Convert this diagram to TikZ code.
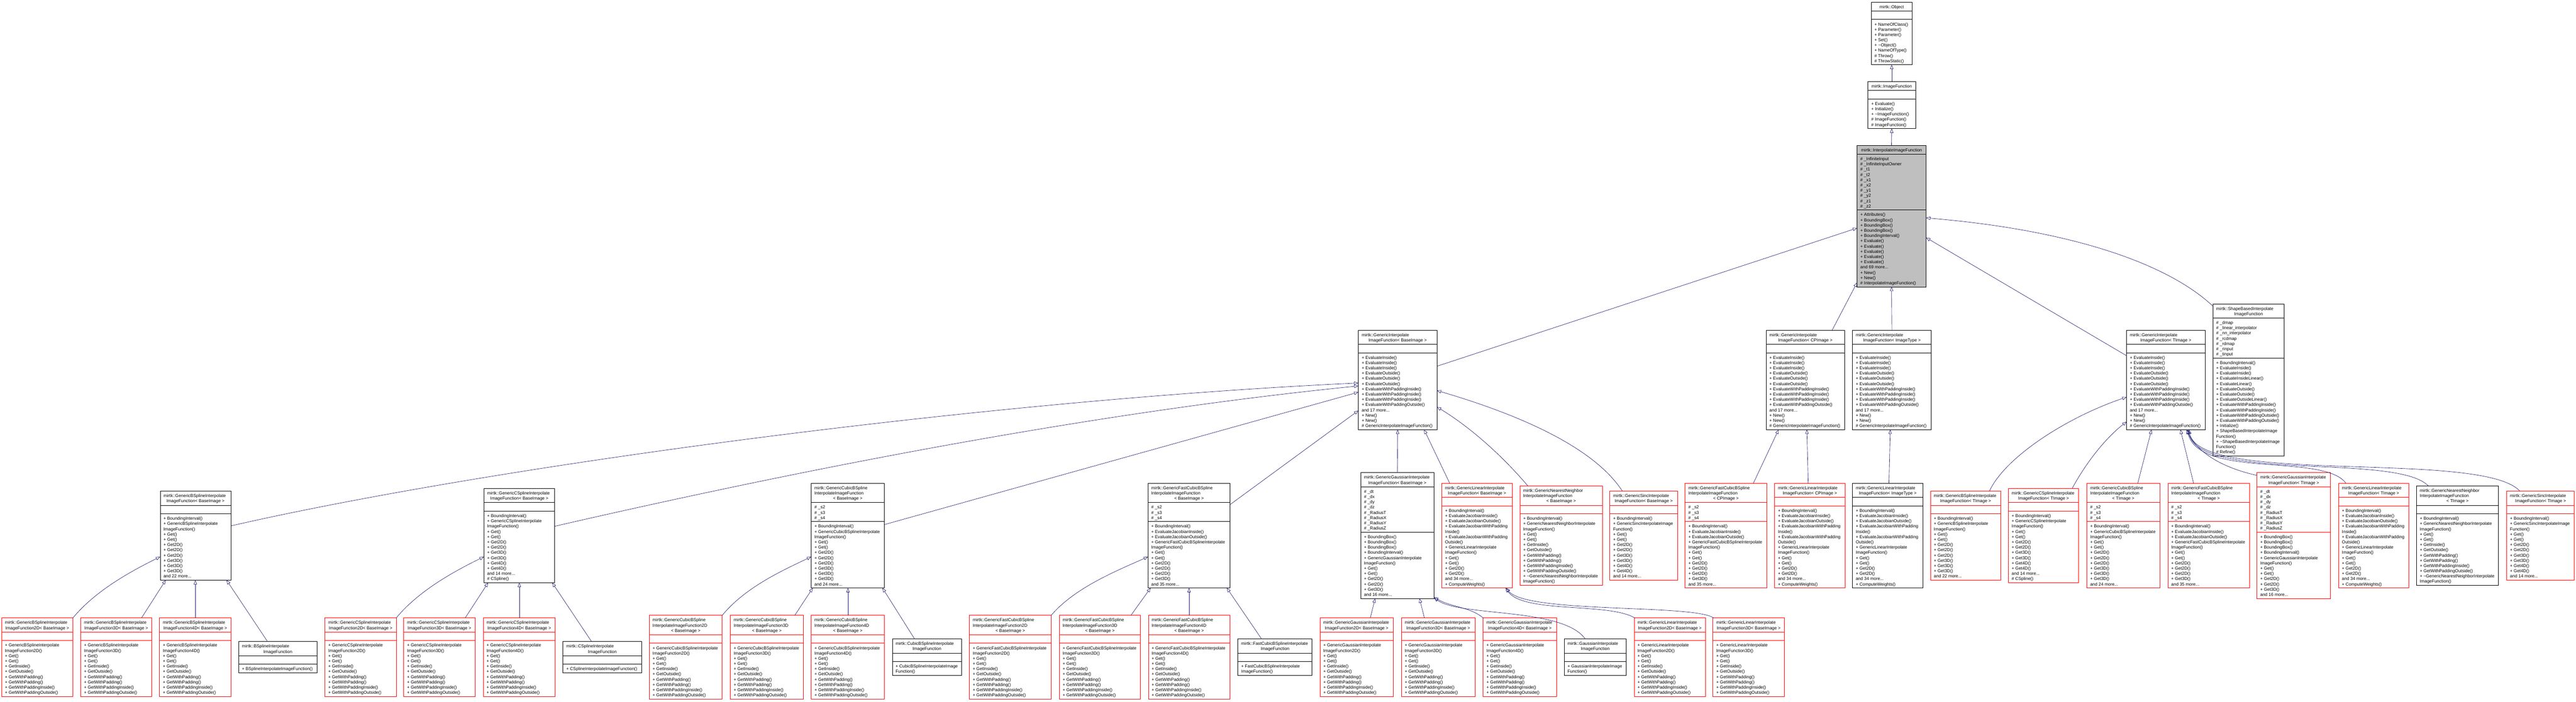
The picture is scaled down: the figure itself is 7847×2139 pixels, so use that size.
\documentclass[tikz,border=0pt]{standalone}
\usepackage{fontspec}
\setmainfont{Liberation Sans}
\usetikzlibrary{arrows.meta,calc}
\definecolor{eblue}{HTML}{191970}
\definecolor{gfill}{HTML}{BFBFBF}
\definecolor{bred}{HTML}{FF0000}
\def\parsecounts#1/#2/#3\relax{\def\qNH{#1}\def\qNA{#2}\def\qNM{#3}}
\newcommand\mc[1]{\makebox[\qTW pt][c]{#1}}
\newcommand\tb[1]{\begin{tabular}[t]{@{}l@{}}#1\end{tabular}}
\def\cls#1#2#3#4#5#6#7#8#9{%
 \parsecounts#6\relax
 \pgfmathsetmacro\qHH{16*\qNH+11}%
 \pgfmathsetmacro\qHA{16*max(\qNA,1)+10}%
 \pgfmathsetmacro\qHM{16*max(\qNM,1)+10}%
 \pgfmathsetmacro\qHT{\qHH+\qHA+\qHM}%
 \pgfmathsetmacro\qYT{#4-\qHT/2}%
 \pgfmathsetmacro\qYA{\qYT+\qHH}%
 \pgfmathsetmacro\qYM{\qYA+\qHA}%
 \pgfmathsetmacro\qXC{#3+#5/2}%
 \pgfmathsetmacro\qTW{#5-20}%
 \node[umlbox,#2,minimum width=#5pt,minimum height=\qHT pt] (#1) at (\qXC,#4) {};
 \draw[fieldsep,#2,fill=none] (#3,\qYA) -- ++(#5,0) (#3,\qYM) -- ++(#5,0);
 \node[txt] (#1-h) at (#3+10,\qYT+19) {\tb{#7}};
 \ifnum\qNA>0 \node[txt] (#1-a) at (#3+10,\qYA+19) {\tb{#8}};\fi
 \node[txt] (#1-m) at (#3+10,\qYM+19) {\tb{#9}};
}
% method / attribute lists
\newcommand\mGI{+ EvaluateInside()\\+ EvaluateInside()\\+ EvaluateInside()\\+ EvaluateOutside()\\+ EvaluateOutside()\\+ EvaluateOutside()\\+ EvaluateWithPaddingInside()\\+ EvaluateWithPaddingInside()\\+ EvaluateWithPaddingInside()\\+ EvaluateWithPaddingOutside()\\and 17 more...\\+ New()\\+ New()\\\# GenericInterpolateImageFunction()}
\newcommand\mGet{+ Get()\\+ Get()\\+ GetInside()\\+ GetOutside()\\+ GetWithPadding()\\+ GetWithPadding()\\+ GetWithPaddingInside()\\+ GetWithPaddingOutside()}
\newcommand\aS{\# \_s2\\\# \_s3\\\# \_s4}
\newcommand\aG{\# \_dt\\\# \_dx\\\# \_dy\\\# \_dz\\\# \_RadiusT\\\# \_RadiusX\\\# \_RadiusY\\\# \_RadiusZ}
\newcommand\mBS{+ BoundingInterval()\\+ GenericBSplineInterpolate\\ImageFunction()\\+ Get()\\+ Get()\\+ Get2D()\\+ Get2D()\\+ Get2D()\\+ Get3D()\\+ Get3D()\\+ Get3D()\\and 22 more...}
\newcommand\mCS{+ BoundingInterval()\\+ GenericCSplineInterpolate\\ImageFunction()\\+ Get()\\+ Get()\\+ Get2D()\\+ Get2D()\\+ Get3D()\\+ Get3D()\\+ Get4D()\\+ Get4D()\\and 14 more...\\\# CSpline()}
\newcommand\mCB{+ BoundingInterval()\\+ GenericCubicBSplineInterpolate\\ImageFunction()\\+ Get()\\+ Get()\\+ Get2D()\\+ Get2D()\\+ Get2D()\\+ Get3D()\\+ Get3D()\\+ Get3D()\\and 24 more...}
\newcommand\mFC{+ BoundingInterval()\\+ EvaluateJacobianInside()\\+ EvaluateJacobianOutside()\\+ GenericFastCubicBSplineInterpolate\\ImageFunction()\\+ Get()\\+ Get()\\+ Get2D()\\+ Get2D()\\+ Get2D()\\+ Get3D()\\and 35 more...}
\newcommand\mGA{+ BoundingBox()\\+ BoundingBox()\\+ BoundingBox()\\+ BoundingInterval()\\+ GenericGaussianInterpolate\\ImageFunction()\\+ Get()\\+ Get()\\+ Get2D()\\+ Get2D()\\+ Get3D()\\and 16 more...}
\newcommand\mLI{+ BoundingInterval()\\+ EvaluateJacobianInside()\\+ EvaluateJacobianOutside()\\+ EvaluateJacobianWithPadding\\Inside()\\+ EvaluateJacobianWithPadding\\Outside()\\+ GenericLinearInterpolate\\ImageFunction()\\+ Get()\\+ Get()\\+ Get2D()\\+ Get2D()\\and 34 more...\\+ ComputeWeights()}
\newcommand\mNN{+ BoundingInterval()\\+ GenericNearestNeighborInterpolate\\ImageFunction()\\+ Get()\\+ Get()\\+ GetInside()\\+ GetOutside()\\+ GetWithPadding()\\+ GetWithPadding()\\+ GetWithPaddingInside()\\+ GetWithPaddingOutside()\\+ \textasciitilde GenericNearestNeighborInterpolate\\ImageFunction()}
\newcommand\mSI{+ BoundingInterval()\\+ GenericSincInterpolateImage\\Function()\\+ Get()\\+ Get()\\+ Get2D()\\+ Get2D()\\+ Get3D()\\+ Get3D()\\+ Get4D()\\+ Get4D()\\and 14 more...}
\newcommand\mD[2]{+ Generic#1Interpolate\\ImageFunction#2()\\\mGet}
% headers
\newcommand\hGI[1]{mirtk::GenericInterpolate\\\mc{ImageFunction< #1 >}}
\newcommand\hBS[1]{mirtk::GenericBSplineInterpolate\\\mc{ImageFunction< #1 >}}
\newcommand\hCS[1]{mirtk::GenericCSplineInterpolate\\\mc{ImageFunction< #1 >}}
\newcommand\hCB[1]{mirtk::GenericCubicBSpline\\InterpolateImageFunction\\\mc{< #1 >}}
\newcommand\hFC[1]{mirtk::GenericFastCubicBSpline\\InterpolateImageFunction\\\mc{< #1 >}}
\newcommand\hGA[1]{mirtk::GenericGaussianInterpolate\\\mc{ImageFunction< #1 >}}
\newcommand\hLI[1]{mirtk::GenericLinearInterpolate\\\mc{ImageFunction< #1 >}}
\newcommand\hNN[1]{mirtk::GenericNearestNeighbor\\InterpolateImageFunction\\\mc{< #1 >}}
\newcommand\hSI[1]{mirtk::GenericSincInterpolate\\\mc{ImageFunction< #1 >}}
\newcommand\hDa[2]{mirtk::Generic#1Interpolate\\\mc{ImageFunction#2< BaseImage >}}
\newcommand\hDb[2]{mirtk::Generic#1\\InterpolateImageFunction#2\\\mc{< BaseImage >}}
\tikzset{
 umlbox/.style={draw, rectangle, inner sep=0pt, outer sep=0pt, line width=1.2pt},
 cb/.style={draw=black},
 cr/.style={draw=bred},
 cg/.style={draw=black, fill=gfill},
 fieldsep/.style={line width=1.3pt},
 txt/.style={anchor=base west, inner sep=0pt, outer sep=0pt, font=\fontsize{13.2}{16}\selectfont},
 inh/.style={draw=eblue, line width=1pt, -{Triangle[open, length=13pt, width=10pt]}},
}
\begin{document}
\begin{tikzpicture}[x=1pt,y=-1pt]
\fill[white] (0,0) rectangle (7847,2139);
\useasboundingbox (0,0) rectangle (7847,2139);
% ranks 0-2
\cls{obj}{cb}{5700}{102}{125}{1/0/8}{\mc{mirtk::Object}}{}{+ NameOfClass()\\+ Parameter()\\+ Parameter()\\+ Set()\\+ \textasciitilde Object()\\+ NameOfType()\\\# Throw()\\\# ThrowStatic()}
\cls{ifn}{cb}{5690}{320}{145}{1/0/5}{\mc{mirtk::ImageFunction}}{}{+ Evaluate()\\+ Initialize()\\+ \textasciitilde ImageFunction()\\\# ImageFunction()\\\# ImageFunction()}
\cls{gray}{cg}{5657}{658.5}{210}{1/10/14}{\mc{mirtk::InterpolateImageFunction}}{\# \_InfiniteInput\\\# \_InfiniteInputOwner\\\# \_t1\\\# \_t2\\\# \_x1\\\# \_x2\\\# \_y1\\\# \_y2\\\# \_z1\\\# \_z2}{+ Attributes()\\+ BoundingBox()\\+ BoundingBox()\\+ BoundingBox()\\+ BoundingInterval()\\+ Evaluate()\\+ Evaluate()\\+ Evaluate()\\+ Evaluate()\\+ Evaluate()\\and 69 more...\\+ New()\\+ New()\\\# InterpolateImageFunction()}
% rank 3
\cls{gbase}{cb}{4138}{1157.5}{239}{2/0/14}{\hGI{BaseImage}}{}{\mGI}
\cls{gcp}{cb}{5380}{1157.5}{239}{2/0/14}{\hGI{CPImage}}{}{\mGI}
\cls{git}{cb}{5643}{1157.5}{240}{2/0/14}{\hGI{ImageType}}{}{\mGI}
\cls{gti}{cb}{6478}{1157.5}{239}{2/0/14}{\hGI{TImage}}{}{\mGI}
\cls{shape}{cb}{6741}{1157.5}{217}{2/7/18}{mirtk::ShapeBasedInterpolate\\\mc{ImageFunction}}{\# \_dmap\\\# \_linear\_interpolator\\\# \_nn\_interpolator\\\# \_rcdmap\\\# \_rdmap\\\# \_rinput\\\# \_tinput}{+ BoundingInterval()\\+ EvaluateInside()\\+ EvaluateInside()\\+ EvaluateInsideLinear()\\+ EvaluateLinear()\\+ EvaluateOutside()\\+ EvaluateOutside()\\+ EvaluateOutsideLinear()\\+ EvaluateWithPaddingInside()\\+ EvaluateWithPaddingInside()\\+ EvaluateWithPaddingOutside()\\+ EvaluateWithPaddingOutside()\\+ Initialize()\\+ ShapeBasedInterpolateImage\\Function()\\+ \textasciitilde ShapeBasedInterpolateImage\\Function()\\\# Refine()}
% rank 4
\cls{bsB}{cb}{488}{1632}{215}{2/0/12}{\hBS{BaseImage}}{}{\mBS}
\cls{csB}{cb}{1474}{1632}{216}{2/0/13}{\hCS{BaseImage}}{}{\mCS}
\cls{cbB}{cb}{2471}{1632}{223}{3/3/12}{\hCB{BaseImage}}{\aS}{\mCB}
\cls{fcB}{cb}{3497}{1632}{250}{3/3/12}{\hFC{BaseImage}}{\aS}{\mFC}
\cls{gaB}{cb}{4145}{1632}{223}{2/8/12}{\hGA{BaseImage}}{\aG}{\mGA}
\cls{liB}{cr}{4392}{1632}{215}{2/0/15}{\hLI{BaseImage}}{}{\mLI}
\cls{nnB}{cr}{4630}{1632}{251}{3/0/13}{\hNN{BaseImage}}{}{\mNN}
\cls{siB}{cr}{4904}{1632}{206}{2/0/12}{\hSI{BaseImage}}{}{\mSI}
\cls{fcCP}{cr}{5133}{1632}{249}{3/3/12}{\hFC{CPImage}}{\aS}{\mFC}
\cls{liCP}{cr}{5406}{1632}{214}{2/0/15}{\hLI{CPImage}}{}{\mLI}
\cls{liIT}{cb}{5643}{1632}{215}{2/0/15}{\hLI{ImageType}}{}{\mLI}
\cls{bsTI}{cr}{5881}{1632}{213}{2/0/12}{\hBS{TImage}}{}{\mBS}
\cls{csTI}{cr}{6118}{1632}{214}{2/0/13}{\hCS{TImage}}{}{\mCS}
\cls{cbTI}{cr}{6357}{1632}{222}{3/3/12}{\hCB{TImage}}{\aS}{\mCB}
\cls{fcTI}{cr}{6604}{1632}{248}{3/3/12}{\hFC{TImage}}{\aS}{\mFC}
\cls{gaTI}{cr}{6875}{1632}{224}{2/8/12}{\hGA{TImage}}{\aG}{\mGA}
\cls{liTI}{cr}{7124}{1632}{213}{2/0/15}{\hLI{TImage}}{}{\mLI}
\cls{nnTI}{cb}{7361}{1632}{250}{3/0/13}{\hNN{TImage}}{}{\mNN}
\cls{siTI}{cr}{7636}{1632}{206}{2/0/12}{\hSI{TImage}}{}{\mSI}
% rank 5
\cls{bsD2}{cr}{5}{2002.5}{217}{2/0/10}{\hDa{BSpline}{2D}}{}{\mD{BSpline}{2D}}
\cls{bsD3}{cr}{246}{2002.5}{216}{2/0/10}{\hDa{BSpline}{3D}}{}{\mD{BSpline}{3D}}
\cls{bsD4}{cr}{486}{2002.5}{217}{2/0/10}{\hDa{BSpline}{4D}}{}{\mD{BSpline}{4D}}
\cls{bsIF}{cb}{727}{2002.5}{239}{2/0/1}{mirtk::BSplineInterpolate\\\mc{ImageFunction}}{}{+ BSplineInterpolateImageFunction()}
\cls{csD2}{cr}{990}{2002.5}{217}{2/0/10}{\hDa{CSpline}{2D}}{}{\mD{CSpline}{2D}}
\cls{csD3}{cr}{1230}{2002.5}{217}{2/0/10}{\hDa{CSpline}{3D}}{}{\mD{CSpline}{3D}}
\cls{csD4}{cr}{1472}{2002.5}{219}{2/0/10}{\hDa{CSpline}{4D}}{}{\mD{CSpline}{4D}}
\cls{csIF}{cb}{1715}{2002.5}{240}{2/0/1}{mirtk::CSplineInterpolate\\\mc{ImageFunction}}{}{+ CSplineInterpolateImageFunction()}
\cls{cbD2}{cr}{1978}{2002.5}{222}{3/0/10}{\hDb{CubicBSpline}{2D}}{}{\mD{CubicBSpline}{2D}}
\cls{cbD3}{cr}{2225}{2002.5}{222}{3/0/10}{\hDb{CubicBSpline}{3D}}{}{\mD{CubicBSpline}{3D}}
\cls{cbD4}{cr}{2471}{2002.5}{223}{3/0/10}{\hDb{CubicBSpline}{4D}}{}{\mD{CubicBSpline}{4D}}
\cls{cbIF}{cb}{2718}{2002.5}{211}{2/0/2}{mirtk::CubicBSplineInterpolate\\\mc{ImageFunction}}{}{+ CubicBSplineInterpolateImage\\Function()}
\cls{fcD2}{cr}{2953}{2002.5}{249}{3/0/10}{\hDb{FastCubicBSpline}{2D}}{}{\mD{FastCubicBSpline}{2D}}
\cls{fcD3}{cr}{3227}{2002.5}{247}{3/0/10}{\hDb{FastCubicBSpline}{3D}}{}{\mD{FastCubicBSpline}{3D}}
\cls{fcD4}{cr}{3498}{2002.5}{249}{3/0/10}{\hDb{FastCubicBSpline}{4D}}{}{\mD{FastCubicBSpline}{4D}}
\cls{fcIF}{cb}{3771}{2002.5}{226}{2/0/2}{mirtk::FastCubicBSplineInterpolate\\\mc{ImageFunction}}{}{+ FastCubicBSplineInterpolate\\ImageFunction()}
\cls{gaD2}{cr}{4021}{2002.5}{223}{2/0/10}{\hDa{Gaussian}{2D}}{}{\mD{Gaussian}{2D}}
\cls{gaD3}{cr}{4269}{2002.5}{224}{2/0/10}{\hDa{Gaussian}{3D}}{}{\mD{Gaussian}{3D}}
\cls{gaD4}{cr}{4518}{2002.5}{223}{2/0/10}{\hDa{Gaussian}{4D}}{}{\mD{Gaussian}{4D}}
\cls{gaIF}{cb}{4765}{2002.5}{189}{2/0/2}{mirtk::GaussianInterpolate\\\mc{ImageFunction}}{}{+ GaussianInterpolateImage\\Function()}
\cls{liD2}{cr}{4978}{2002.5}{217}{2/0/10}{\hDa{Linear}{2D}}{}{\mD{Linear}{2D}}
\cls{liD3}{cr}{5218}{2002.5}{218}{2/0/10}{\hDa{Linear}{3D}}{}{\mD{Linear}{3D}}
% edges ranks 0-3
\draw[inh] (ifn.north) -- (obj.south);
\draw[inh] (gray.north) -- (ifn.south);
\draw[inh] ($(gbase.north east)+(0,110)$) -- ($(gray.north west)+(0,252)$);
\draw[inh] ($(gcp.north west)+(201,0)$) -- ($(gray.north west)+(0,418)$);
\draw[inh] (git.north) -- (gray.south);
\draw[inh] ($(gti.north west)+(0,78)$) -- ($(gray.north east)+(0,281)$);
\draw[inh] ($(shape.north west)+(0,7)$) .. controls (6600,800) and (6300,700) .. ($(gray.north east)+(0,221)$);
% rank 4 -> 3
\draw[inh] ($(bsB.north east)+(0,106)$) .. controls (1500,1420) and (3000,1220) .. ($(gbase.north west)+(0,161)$);
\draw[inh] ($(csB.north east)+(0,115)$) .. controls (2400,1440) and (3300,1260) .. ($(gbase.north west)+(0,170)$);
\draw[inh] ($(cbB.north east)+(0,126)$) -- ($(gbase.north west)+(0,189)$);
\draw[inh] ($(fcB.north east)+(0,65)$) -- ($(gbase.north west)+(0,245)$);
\draw[inh] (gaB.north) -- (gbase.south);
\draw[inh] ($(liB.north west)+(24,0)$) -- ($(gbase.south west)+(200,0)$);
\draw[inh] ($(nnB.north west)+(24,0)$) .. controls (4560,1370) and (4460,1290) .. ($(gbase.north east)+(0,234)$);
\draw[inh] ($(siB.north west)+(38,0)$) .. controls (4860,1370) and (4650,1270) .. ($(gbase.north east)+(0,184)$);
\draw[inh] ($(fcCP.north west)+(208,0)$) -- ($(gcp.south west)+(38,0)$);
\draw[inh] ($(liCP.north west)+(102,0)$) -- ($(gcp.south west)+(124,0)$);
\draw[inh] ($(liIT.north west)+(111,0)$) -- ($(git.south west)+(115,0)$);
\draw[inh] ($(bsTI.north west)+(179,0)$) .. controls (6110,1390) and (6300,1270) .. ($(gti.north west)+(0,204)$);
\draw[inh] ($(csTI.north west)+(194,0)$) .. controls (6360,1400) and (6420,1330) .. ($(gti.north west)+(0,279)$);
\draw[inh] ($(cbTI.north west)+(155,0)$) -- ($(gti.south west)+(76,0)$);
\draw[inh] ($(fcTI.north west)+(78,0)$) -- ($(gti.south west)+(164,0)$);
\draw[inh] ($(gaTI.north west)+(0,8)$) .. controls (6790,1430) and (6700,1390) .. ($(gti.south west)+(182,0)$);
\draw[inh] ($(liTI.north west)+(22,0)$) .. controls (7080,1380) and (6700,1460) .. ($(gti.south west)+(184,0)$);
\draw[inh] ($(nnTI.north west)+(36,0)$) .. controls (7300,1380) and (6700,1470) .. ($(gti.south west)+(187,0)$);
\draw[inh] ($(siTI.north west)+(40,0)$) .. controls (7560,1370) and (6700,1480) .. ($(gti.south west)+(190,0)$);
% rank 5 -> 4
\draw[inh] (bsD2.north east) .. controls (290,1800) and (400,1740) .. ($(bsB.north west)+(0,200)$);
\draw[inh] ($(bsD3.north west)+(185,0)$) -- ($(bsB.south west)+(17,0)$);
\draw[inh] ($(bsD4.north west)+(109,0)$) -- ($(bsB.south west)+(107,0)$);
\draw[inh] ($(bsIF.north west)+(88,0)$) -- ($(bsB.south west)+(202,0)$);
\draw[inh] (csD2.north east) .. controls (1275,1800) and (1385,1740) .. ($(csB.north west)+(0,208)$);
\draw[inh] ($(csD3.north west)+(187,0)$) -- ($(csB.south west)+(13,0)$);
\draw[inh] ($(csD4.north west)+(110,0)$) -- ($(csB.south west)+(108,0)$);
\draw[inh] ($(csIF.north west)+(87,0)$) -- ($(csB.south west)+(208,0)$);
\draw[inh] (cbD2.north east) .. controls (2270,1790) and (2380,1740) .. ($(cbB.north west)+(0,224)$);
\draw[inh] ($(cbD3.north west)+(196,0)$) -- ($(cbB.south west)+(5,0)$);
\draw[inh] ($(cbD4.north west)+(112,0)$) -- ($(cbB.south west)+(112,0)$);
\draw[inh] ($(cbIF.north west)+(68,0)$) -- ($(cbB.south west)+(217,0)$);
\draw[inh] (fcD2.north east) .. controls (3275,1790) and (3400,1740) .. ($(fcB.north west)+(0,224)$);
\draw[inh] ($(fcD3.north west)+(218,0)$) -- ($(fcB.south west)+(8,0)$);
\draw[inh] ($(fcD4.north west)+(124,0)$) -- ($(fcB.south west)+(125,0)$);
\draw[inh] ($(fcIF.north west)+(72,0)$) -- ($(fcB.south west)+(240,0)$);
\draw[inh] ($(gaD2.north west)+(153,0)$) -- ($(gaB.south west)+(44,0)$);
\draw[inh] ($(gaD3.north west)+(70,0)$) -- ($(gaB.south west)+(179,0)$);
\draw[inh] ($(gaD4.north west)+(0,0)$) .. controls (4480,1850) and (4420,1850) .. ($(gaB.south east)+(0,-4)$);
\draw[inh] ($(gaIF.north west)+(64,0)$) .. controls (4760,1850) and (4450,1880) .. ($(gaB.south east)+(0,-2)$);
\draw[inh] ($(liD2.north west)+(2,0)$) .. controls (4900,1835) and (4640,1870) .. ($(liB.south west)+(194,0)$);
\draw[inh] ($(liD3.north west)+(2,0)$) .. controls (5160,1840) and (4650,1870) .. ($(liB.south west)+(196,0)$);
\end{tikzpicture}
\end{document}
